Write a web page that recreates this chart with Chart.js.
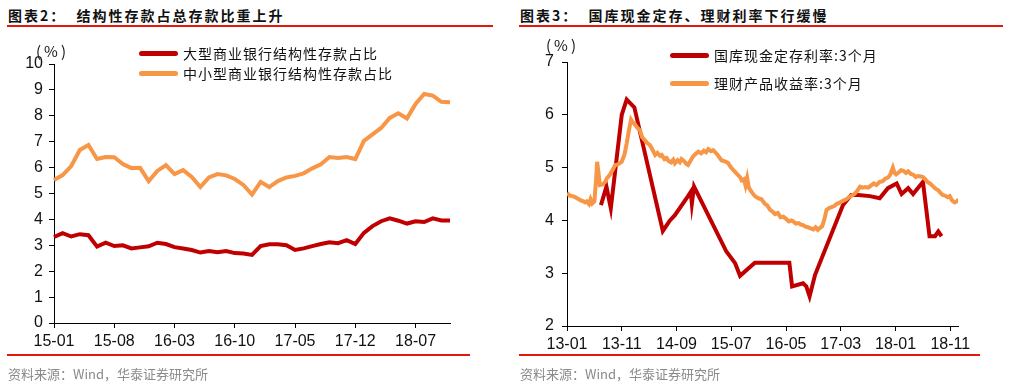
<!DOCTYPE html>
<html>
<head>
<meta charset="utf-8">
<script src="https://cdn.jsdelivr.net/npm/chart.js@4/dist/chart.umd.min.js"></script>
<style>
  body { margin: 0; width: 1017px; height: 391px; background: #fff; position: relative; overflow: hidden;
         font-family: "Noto Sans CJK SC", "Liberation Sans", sans-serif; }
  canvas { position: absolute; top: 0; }
  .title { position: absolute; top: 5px; font-size: 14px; font-weight: bold; color: #111; letter-spacing: 2px; white-space: pre; }
  .rule { position: absolute; height: 2px; background: #e3170a; }
  .source { position: absolute; top: 364px; font-size: 13px; color: #8a8a8a; white-space: pre; }
  .unit { position: absolute; font-size: 15px; color: #111; letter-spacing: 3px; white-space: pre; }
  .leg { position: absolute; font-size: 14px; color: #111; letter-spacing: 1px; white-space: pre; }
  .leg i { position: absolute; left: -44px; top: 8px; width: 39px; height: 5px; border-radius: 3px; }
</style>
</head>
<body>
<div class="title" style="left:8px">图表2：  结构性存款占总存款比重上升</div>
<div class="rule" style="left:7px; width:486px; top:25px"></div>
<div class="title" style="left:520px">图表3：  国库现金定存、理财利率下行缓慢</div>
<div class="rule" style="left:519px; width:484px; top:25px"></div>

<canvas id="shareChart" width="500" height="391" style="left:0"></canvas>
<canvas id="rateChart" width="507" height="391" style="left:510px"></canvas>

<div class="unit" style="left:36px; top:40px">(%)</div>
<div class="leg" style="left:183px; top:43px"><i style="background:#C00000"></i>大型商业银行结构性存款占比</div>
<div class="leg" style="left:183px; top:63px"><i style="background:#F79646"></i>中小型商业银行结构性存款占比</div>

<div class="unit" style="left:546px; top:34px">(%)</div>
<div class="leg" style="left:714px; top:45px"><i style="background:#C00000"></i>国库现金定存利率:3个月</div>
<div class="leg" style="left:714px; top:73px"><i style="background:#F79646"></i>理财产品收益率:3个月</div>

<div class="rule" style="left:7px; width:463px; top:354px"></div>
<div class="rule" style="left:519px; width:461px; top:354px"></div>
<div class="source" style="left:8px">资料来源：Wind，华泰证券研究所</div>
<div class="source" style="left:520px">资料来源：Wind，华泰证券研究所</div>

<script>
// left chart: monthly share of structured deposits
const depMonths = [
  "15-01","15-02","15-03","15-04","15-05","15-06","15-07","15-08","15-09","15-10","15-11","15-12",
  "16-01","16-02","16-03","16-04","16-05","16-06","16-07","16-08","16-09","16-10","16-11","16-12",
  "17-01","17-02","17-03","17-04","17-05","17-06","17-07","17-08","17-09","17-10","17-11","17-12",
  "18-01","18-02","18-03","18-04","18-05","18-06","18-07","18-08","18-09","18-10","18-11"
];
const bigBankShare = [
  3.32, 3.47, 3.34, 3.43, 3.39, 2.95, 3.10, 2.97, 3.00, 2.88, 2.92, 2.96,
  3.10, 3.05, 2.93, 2.88, 2.82, 2.72, 2.78, 2.73, 2.78, 2.70, 2.68, 2.63,
  2.97, 3.04, 3.04, 3.00, 2.82, 2.88, 2.97, 3.05, 3.12, 3.08, 3.20, 3.05,
  3.48, 3.74, 3.93, 4.04, 3.95, 3.84, 3.93, 3.90, 4.04, 3.96, 3.96
];
const smallBankShare = [
  5.52, 5.71, 6.06, 6.68, 6.87, 6.33, 6.41, 6.40, 6.14, 5.98, 5.99, 5.48,
  5.87, 6.10, 5.75, 5.90, 5.64, 5.25, 5.62, 5.75, 5.70, 5.56, 5.33, 4.96,
  5.45, 5.25, 5.48, 5.62, 5.68, 5.78, 5.97, 6.13, 6.41, 6.37, 6.41, 6.33,
  7.03, 7.28, 7.53, 7.92, 8.10, 7.90, 8.46, 8.84, 8.78, 8.54, 8.52
];
const shareTicks = [0, 1, 2, 3, 4, 5, 6, 7, 8, 9, 10];

// right chart: months since 13-01 and rates
const depositRateMonth = [
  6.2, 7.2, 8.0, 10.0, 10.9, 12.3, 17.5, 18.8, 19.7, 22.1, 22.6, 22.8, 23.2,
  29.1, 30.7, 31.6, 34.3, 40.6, 41.1, 43.1, 43.7, 44.3, 45.3, 50.4, 51.9,
  53.2, 55.3, 57.1, 58.6, 60.2, 61.1, 62.3, 63.2, 65.0, 66.2, 67.2, 67.8, 68.4
];
const depositRate = [
  4.29, 4.64, 4.23, 6.00, 6.29, 6.14, 3.80, 4.00, 4.10, 4.46, 4.54, 4.32, 4.64,
  3.41, 3.19, 2.95, 3.20, 3.20, 2.75, 2.81, 2.75, 2.56, 2.97, 4.29, 4.48,
  4.48, 4.46, 4.42, 4.61, 4.70, 4.50, 4.61, 4.50, 4.73, 3.70, 3.70, 3.79, 3.70
];
const wmpYieldMonth = [
  0, 0.5, 1, 1.5, 2, 2.5, 3, 3.3, 3.6, 4, 4.3, 4.6, 5.0, 5.3, 5.5, 5.7, 6.0, 6.5, 6.9, 7.3,
  7.8, 8.3, 8.8, 9.3, 10, 10.5, 10.9, 11.3, 11.7, 12.0, 12.4, 12.8, 13.3, 13.7, 14.2, 14.6,
  15.1, 15.5, 16.1, 16.5, 17.0, 17.3, 17.8, 18.2, 18.5, 19.0, 19.4, 19.7, 20.2, 20.6, 20.9,
  21.4, 21.8, 22.1, 22.5, 23.0, 23.5, 24.0, 24.5, 25.0, 25.4, 25.8, 26.3, 26.7, 27.0, 27.5,
  28.2, 28.8, 29.4, 29.9, 30.3, 30.7, 31.2, 31.6, 31.9, 32.3, 32.6, 32.9, 33.2, 33.7, 34.3,
  34.9, 35.5, 36.1, 36.6, 37.1, 37.6, 38.0, 38.5, 39.0, 39.5, 40.0, 40.5, 41.0, 41.3, 41.8,
  42.3, 42.7, 43.1, 43.6, 44.0, 44.5, 45.0, 45.4, 45.8, 46.2, 46.6, 47.0, 47.4, 47.8, 48.3,
  48.8, 49.2, 49.7, 50.2, 50.6, 51.0, 51.5, 52.0, 52.5, 53.0, 53.5, 54.0, 54.5, 55.0, 55.5,
  56.0, 56.5, 57.1, 57.6, 58.1, 58.6, 59.0, 59.5, 59.8, 60.1, 60.6, 61.0, 61.4, 61.9, 62.3,
  62.8, 63.3, 63.7, 64.1, 64.6, 65.0, 65.4, 65.9, 66.3, 66.8, 67.3, 67.8, 68.2, 68.6, 69.0,
  69.5, 69.9, 70.3, 70.8, 71.2, 71.5
];
const wmpYield = [
  4.52, 4.47, 4.46, 4.44, 4.41, 4.38, 4.36, 4.34, 4.36, 4.31, 4.40, 4.32, 4.36, 4.75, 5.11, 4.95, 4.67, 4.68, 4.72, 4.80,
  4.86, 4.95, 5.05, 5.06, 5.11, 5.25, 5.46, 5.70, 5.91, 5.86, 5.82, 5.76, 5.71, 5.58, 5.52, 5.47,
  5.43, 5.36, 5.24, 5.28, 5.22, 5.24, 5.16, 5.18, 5.13, 5.10, 5.15, 5.08, 5.14, 5.10, 5.16,
  5.12, 5.07, 5.05, 5.12, 5.21, 5.26, 5.30, 5.27, 5.32, 5.29, 5.35, 5.31, 5.33, 5.30, 5.24,
  5.14, 5.12, 5.09, 5.01, 4.96, 4.92, 4.86, 4.82, 4.76, 4.78, 4.66, 4.80, 4.62, 4.54, 4.46,
  4.42, 4.40, 4.32, 4.28, 4.20, 4.16, 4.12, 4.14, 4.06, 4.07, 4.03, 3.98, 4.00, 3.98, 3.94,
  3.95, 3.92, 3.91, 3.88, 3.87, 3.85, 3.83, 3.87, 3.82, 3.86, 3.89, 4.02, 4.20, 4.23, 4.25,
  4.27, 4.31, 4.33, 4.36, 4.38, 4.40, 4.44, 4.47, 4.50, 4.56, 4.64, 4.62, 4.63, 4.62, 4.66,
  4.70, 4.67, 4.73, 4.74, 4.79, 4.81, 4.86, 5.00, 4.90, 4.87, 4.91, 4.95, 4.94, 4.90, 4.93,
  4.88, 4.86, 4.82, 4.84, 4.83, 4.82, 4.78, 4.72, 4.70, 4.65, 4.60, 4.57, 4.52, 4.48, 4.47,
  4.44, 4.46, 4.38, 4.34, 4.36, 4.40
];
const rateTickMonths = [0, 10, 20, 30, 40, 50, 60, 70];

Chart.defaults.font.family = "'Liberation Sans', Arial, sans-serif";
Chart.defaults.color = "#111";

const axisGrid = { drawOnChartArea: false, tickLength: 5, color: "#000" };

const lineSet = (data, color, order) => ({
  data: data,
  borderColor: color,
  backgroundColor: color,
  borderWidth: 4,
  pointRadius: 0,
  tension: 0,
  order: order,
});

new Chart(document.getElementById("shareChart"), {
  type: "line",
  data: {
    labels: depMonths,
    datasets: [lineSet(bigBankShare, "#C00000", 2), lineSet(smallBankShare, "#F79646", 1)],
  },
  options: {
    responsive: false,
    animation: false,
    devicePixelRatio: 1,
    layout: { padding: { left: 0, right: 50, top: 64, bottom: 38 } },
    plugins: { legend: { display: false }, tooltip: { enabled: false } },
    scales: {
      x: {
        offset: false,
        grid: axisGrid,
        border: { color: "#000" },
        ticks: {
          autoSkip: false,
          maxRotation: 0,
          padding: 4,
          font: { size: 16 },
          callback: function (v, i) {
            return i % 7 === 0 ? this.getLabelForValue(v) : null;
          },
        },
        afterFit: (s) => { s.height = 30; },
      },
      y: {
        min: shareTicks[0],
        max: shareTicks[shareTicks.length - 1],
        grid: axisGrid,
        border: { color: "#000" },
        ticks: { stepSize: 1, padding: 6, font: { size: 16 } },
        afterFit: (s) => { s.width = 54; },
      },
    },
  },
});

const toPairs = (xs, ys) => xs.map((x, i) => [x, ys[i]]);

new Chart(document.getElementById("rateChart"), {
  type: "line",
  data: {
    datasets: [
      lineSet(toPairs(depositRateMonth, depositRate), "#C00000", 2),
      lineSet(toPairs(wmpYieldMonth, wmpYield), "#F79646", 1),
    ],
  },
  options: {
    responsive: false,
    animation: false,
    devicePixelRatio: 1,
    layout: { padding: { left: 0, right: 59, top: 62, bottom: 35 } },
    plugins: { legend: { display: false }, tooltip: { enabled: false } },
    scales: {
      x: {
        type: "linear",
        min: rateTickMonths[0],
        max: 71.4,
        grid: axisGrid,
        border: { color: "#000" },
        afterBuildTicks: (s) => { s.ticks = rateTickMonths.map((v) => ({ value: v })); },
        ticks: {
          maxRotation: 0,
          padding: 4,
          font: { size: 16 },
          callback: (v) => {
            const yy = 13 + Math.floor(v / 12);
            const mm = (v % 12) + 1;
            return yy + "-" + (mm < 10 ? "0" + mm : mm);
          },
        },
        afterFit: (s) => { s.height = 30; },
      },
      y: {
        min: 2,
        max: 7,
        grid: axisGrid,
        border: { color: "#000" },
        ticks: { stepSize: 1, padding: 8, font: { size: 16 } },
        afterFit: (s) => { s.width = 57; },
      },
    },
  },
});
</script>
</body>
</html>
